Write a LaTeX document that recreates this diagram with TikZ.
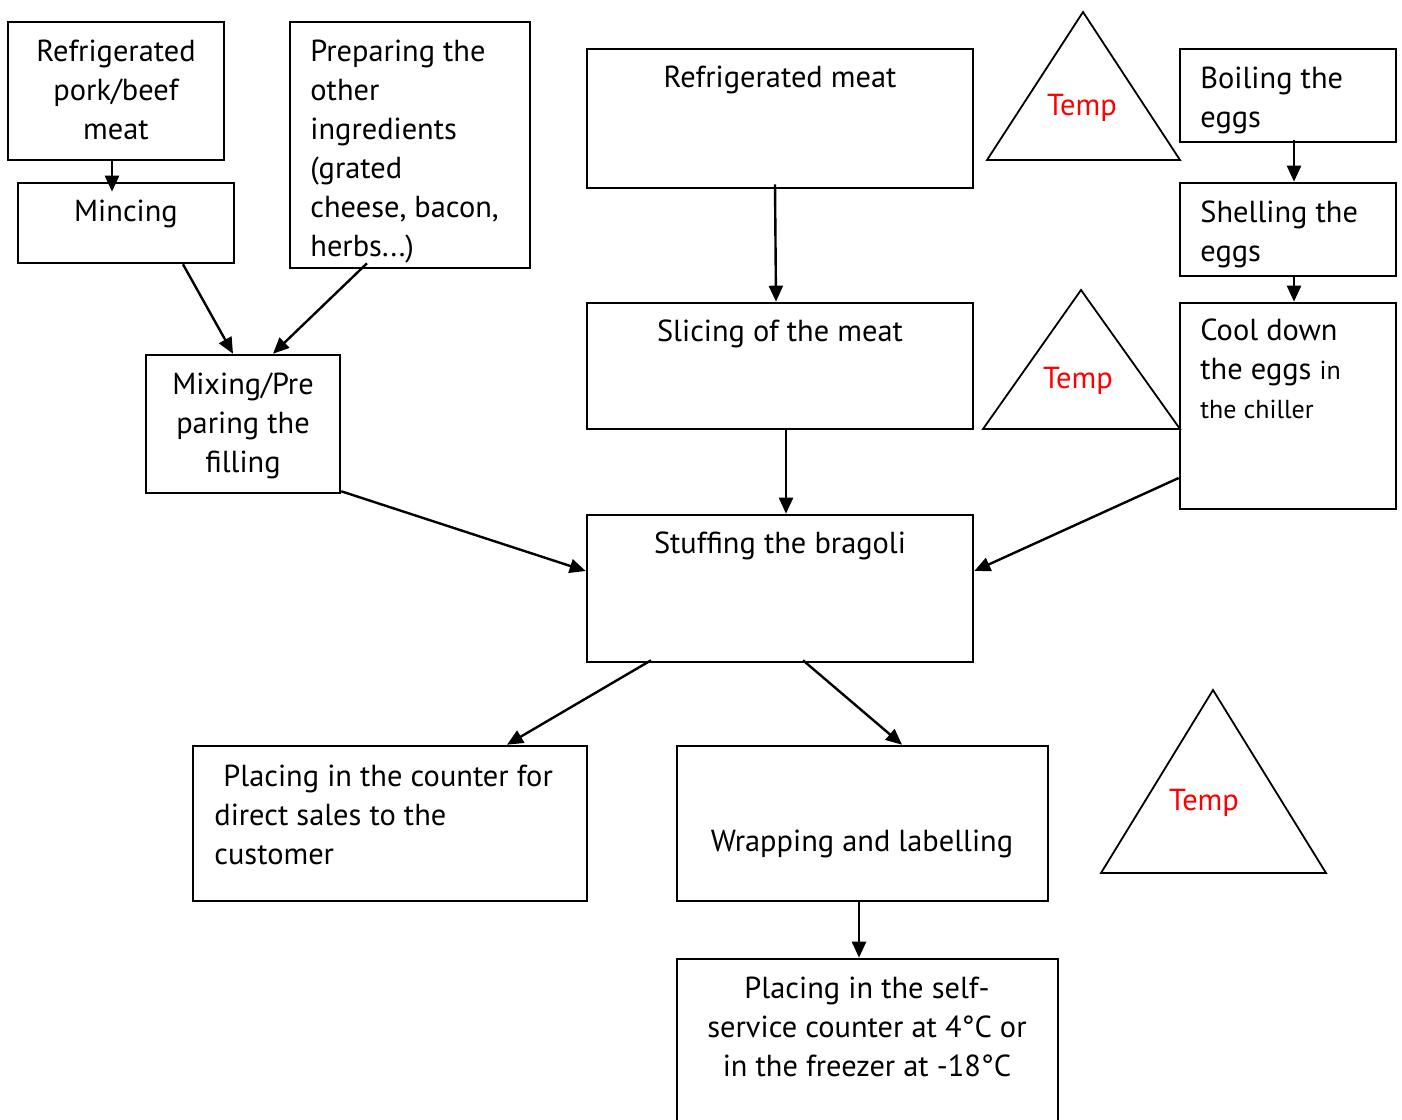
\documentclass[tikz,border=0pt]{standalone}
\usepackage{fontspec}
\setmainfont{PT Sans}
\usetikzlibrary{arrows.meta,fit}
\begin{document}
\begin{tikzpicture}[x=0.5pt,y=-0.5pt,
  box/.style={draw,line width=1.3pt,inner sep=0pt},
  arr/.style={line width=1.2pt,-{Triangle[length=8pt,width=7pt]}},
  tri/.style={draw,line width=0.9pt,line join=miter},
  txt/.style={inner sep=0pt,font=\fontsize{15.2pt}{19.5pt}\selectfont},
  tmp/.style={inner sep=0pt,text=red,font=\fontsize{15.2pt}{19.5pt}\selectfont}]
\useasboundingbox (0,0) rectangle (1402,1119);
% boxes
\node[box,fit={(8,22) (224,160)}] (A) {};
\node[box,fit={(18,183) (234,263)}] (B) {};
\node[box,fit={(290,22) (530,268)}] (C) {};
\node[box,fit={(146,355) (340,493)}] (D) {};
\node[box,fit={(587,49) (973,188)}] (E) {};
\node[box,fit={(1180,49) (1396,142)}] (F) {};
\node[box,fit={(1180,183) (1396,276)}] (G) {};
\node[box,fit={(1180,303) (1396,509)}] (H) {};
\node[box,fit={(587,303) (973,429)}] (I) {};
\node[box,fit={(587,515) (973,662)}] (J) {};
\node[box,fit={(193,746) (587,901)}] (K) {};
\node[box,fit={(677,746) (1048,901)}] (L) {};
\node[box,fit={(677,959) (1058,1140)}] (M) {};
% texts (anchor=base is the baseline of the last line)
\node[txt,anchor=base,align=center] (tA) at (116,139) {Refrigerated\\pork/beef\\meat};
\node[txt,anchor=base] (tB) at (126,221) {Mincing};
\node[txt,anchor=base west,align=left] (tC) at (310,256) {Preparing the\\other\\ingredients\\(grated\\cheese, bacon,\\herbs...)};
\node[txt,anchor=base,align=center] (tD) at (243,472) {Mixing/Pre\\paring the\\filling};
\node[txt,anchor=base] (tE) at (780,87) {Refrigerated meat};
\node[txt,anchor=base west,align=left] (tF) at (1200,127) {Boiling the\\eggs};
\node[txt,anchor=base west,align=left] (tG) at (1200,261) {Shelling the\\eggs};
\node[txt,anchor=base west,align=left] (tH) at (1200,418) {Cool down\\the eggs {\fontsize{13pt}{19pt}\selectfont in}\\{\fontsize{13pt}{19pt}\selectfont the chiller}};
\node[txt,anchor=base] (tI) at (780,341) {Slicing of the meat};
\node[txt,anchor=base] (tJ) at (780,553) {Stuffing the bragoli};
\node[txt,anchor=base west,align=left] (tK) at (214,864) {\hspace{4.5pt}Placing in the counter for\\direct sales to the\\customer};
\node[txt,anchor=base] (tL) at (862,851) {Wrapping and labelling};
\node[txt,anchor=base,align=center] (tM) at (867,1076) {Placing in the self-\\service counter at 4°C or\\in the freezer at -18°C};
% triangles
\draw[tri] (1083,12) -- (1180,160) -- (987,160) -- cycle;
\draw[tri] (1081,290) -- (1180,429) -- (983,429) -- cycle;
\draw[tri] (1213,690) -- (1326,873) -- (1101,873) -- cycle;
\node[tmp,anchor=base] (T1) at (1082,115) {Temp};
\node[tmp,anchor=base] (T2) at (1078,388) {Temp};
\node[tmp,anchor=base] (T3) at (1204,810) {Temp};
% connectors
\draw[arr] ([xshift=-2pt,yshift=1pt]A.south) -- ([xshift=-7pt,yshift=-5pt]B.north);
\draw[arr] ([xshift=28.5pt]B.south) -- ([xshift=-5pt]D.north);
\draw[arr] ([xshift=-21.5pt,yshift=3pt]C.south) -- ([xshift=15pt]D.north);
\draw[arr] ([xshift=-2.5pt,yshift=2.5pt]E.south) -- ([xshift=-2pt]I.north);
\draw[arr] ([xshift=3pt,yshift=1pt]I.south) -- ([xshift=3pt]J.north);
\draw[arr] ([yshift=1.5pt]D.south east) -- ([yshift=8.75pt]J.west);
\draw[arr] ([yshift=-36pt]H.west) -- ([yshift=8.75pt]J.east);
\draw[arr] ([xshift=3pt,yshift=1.5pt]F.south) -- ([xshift=3pt]G.north);
\draw[arr] ([xshift=3pt,yshift=1pt]G.south) -- ([xshift=3pt]H.north);
\draw[arr] ([xshift=-64.5pt,yshift=1.5pt]J.south) -- ([xshift=58.5pt]K.north);
\draw[arr] ([xshift=11.5pt,yshift=1.5pt]J.south) -- ([xshift=19.75pt]L.north);
\draw[arr] ([xshift=-1.75pt,yshift=1pt]L.south) -- ([xshift=-4.25pt]M.north);
\end{tikzpicture}
\end{document}
